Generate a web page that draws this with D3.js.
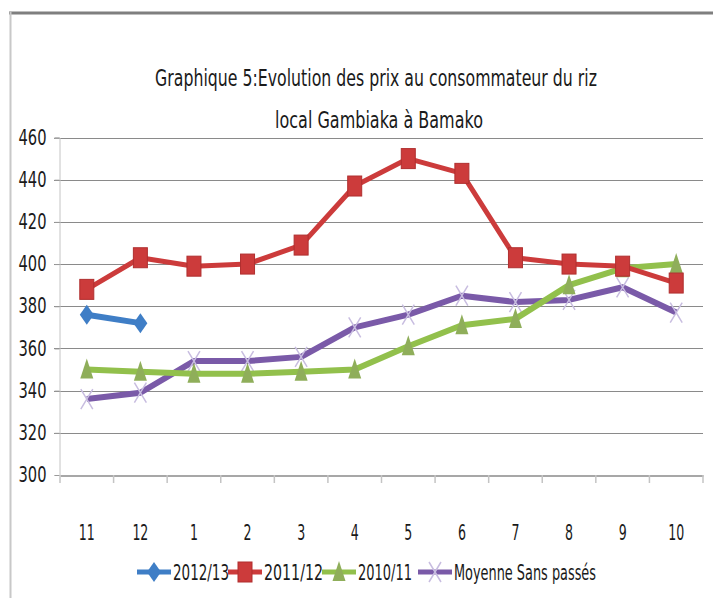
<!DOCTYPE html>
<html>
<head>
<meta charset="utf-8">
<script src="https://cdn.jsdelivr.net/npm/d3@7"></script>
<style>
  html, body { margin: 0; padding: 0; background: #fff; }
  text { font-family: "Liberation Sans Narrow", "DejaVu Sans Condensed", "Liberation Sans", sans-serif; fill: #1a1a1a; }
</style>
</head>
<body>
<div id="demo"></div>
<script>
// mois (axe x)
var months = ['11', '12', '1', '2', '3', '4', '5', '6', '7', '8', '9', '10'];
// graduations de l'axe y
var yTicks = [300, 320, 340, 360, 380, 400, 420, 440, 460];

// séries (prix FCFA/kg)
var serie2012 = [376, 372];
var serie2011 = [388, 403, 399, 400, 409, 437, 450, 443, 403, 400, 399, 391];
var serie2010 = [350, 349, 348, 348, 349, 350, 361, 371, 374, 390, 398, 400];
var serieMoy  = [336, 339, 354, 354, 356, 370, 376, 385, 382, 383, 389, 377];

var seriesNames = ['2012/13', '2011/12', '2010/11', 'Moyenne Sans passés'];

var W = 713, H = 598;
var FONT = '"Liberation Sans Narrow", "DejaVu Sans Condensed", sans-serif';
var svg = d3.select('#demo').append('svg')
	.attr('width', W)
	.attr('height', H);

// cadre
svg.append('rect').attr('x', 0).attr('y', 0).attr('width', W).attr('height', H).attr('fill', '#fff');
svg.append('line').attr('x1', 9).attr('x2', W).attr('y1', 13).attr('y2', 13)
	.attr('stroke', '#7f7f7f').attr('stroke-width', 3);
svg.append('line').attr('x1', 10.5).attr('x2', 10.5).attr('y1', 12).attr('y2', H)
	.attr('stroke', '#c8c8c8').attr('stroke-width', 2);

// titre : police condensée, mise à la largeur par une échelle horizontale
function titleLine(txt, cx, cy, width) {
	var t = svg.append('text')
		.attr('x', 0).attr('y', 0)
		.attr('text-anchor', 'middle')
		.attr('font-size', 23)
		.text(txt);
	var s = width / t.node().getComputedTextLength();
	t.attr('transform', 'translate(' + cx + ',' + cy + ') scale(' + s + ',1)');
}
titleLine('Graphique 5:Evolution des prix au consommateur du riz', 376, 86, 442);
titleLine('local Gambiaka à Bamako', 379, 128, 208);

// échelles
var x = d3.scaleBand().domain(months).range([60, 703]);
var y = d3.scaleLinear().domain([300, 460]).range([475, 137.5]);

// grille horizontale
svg.append('g').selectAll('line')
	.data(yTicks.slice(1))
	.enter().append('line')
	.attr('x1', 54).attr('x2', 703)
	.attr('y1', function(d) { return Math.round(y(d)) + 0.5; })
	.attr('y2', function(d) { return Math.round(y(d)) + 0.5; })
	.attr('stroke', '#8a8a8a').attr('stroke-width', 1.2);

// axe y
var yAxis = svg.append('g')
	.attr('transform', 'translate(59.5,0)')
	.call(d3.axisLeft(y).tickValues(yTicks).tickSize(5).tickPadding(8));
yAxis.select('.domain').attr('stroke', '#c4c4c4');
yAxis.selectAll('.tick line').attr('stroke', '#9a9a9a');
yAxis.selectAll('.tick text')
	.attr('font-size', 21)
	.attr('textLength', 28).attr('lengthAdjust', 'spacingAndGlyphs')
	.style('font-family', FONT)
	.attr('fill', '#1a1a1a');

// axe x
var xAxis = svg.append('g')
	.attr('transform', 'translate(0,475.5)')
	.call(d3.axisBottom(x).tickSize(0).tickPadding(50));
xAxis.select('.domain').attr('stroke', '#8a8a8a').attr('stroke-width', 1.5);
xAxis.selectAll('.tick text')
	.attr('font-size', 21)
	.attr('textLength', function(d) { return d.length > 1 ? 16 : 8; })
	.attr('lengthAdjust', 'spacingAndGlyphs')
	.style('font-family', FONT)
	.attr('fill', '#1a1a1a');
// graduations entre catégories
svg.append('g').selectAll('line')
	.data(months.concat(['end']))
	.enter().append('line')
	.attr('x1', function(d, i) { return 60 + i * x.step(); })
	.attr('x2', function(d, i) { return 60 + i * x.step(); })
	.attr('y1', 475).attr('y2', 483)
	.attr('stroke', '#c4c4c4').attr('stroke-width', 1.5);

var colors = ['#3f7ec6', '#cc3b3b', '#92c04c', '#7a5aa8'];
var markers = ['diamond', 'square', 'triangle', 'x'];

var line = d3.line()
	.x(function(d) { return x(d.m) + x.bandwidth() / 2; })
	.y(function(d) { return y(d.v); });

function toPts(arr) {
	return arr.map(function(v, i) { return {m: months[i], v: v}; });
}

function drawMarker(g, type, cx, cy, color) {
	if (type === 'square') {
		g.append('rect').attr('x', cx - 7).attr('y', cy - 10).attr('width', 14).attr('height', 20)
			.attr('fill', color).attr('stroke', '#b02f2f').attr('stroke-width', 1);
	} else if (type === 'diamond') {
		g.append('path').attr('d', 'M' + cx + ',' + (cy - 10) + 'L' + (cx + 7) + ',' + cy + 'L' + cx + ',' + (cy + 10) + 'L' + (cx - 7) + ',' + cy + 'Z')
			.attr('fill', color);
	} else if (type === 'triangle') {
		g.append('path').attr('d', 'M' + cx + ',' + (cy - 11) + 'L' + (cx + 6.5) + ',' + (cy + 9) + 'L' + (cx - 6.5) + ',' + (cy + 9) + 'Z')
			.attr('fill', '#8fae5a');
	} else {
		g.append('path').attr('d', 'M' + (cx - 6) + ',' + (cy - 10) + 'L' + (cx + 6) + ',' + (cy + 10) + 'M' + (cx + 6) + ',' + (cy - 10) + 'L' + (cx - 6) + ',' + (cy + 10))
			.attr('stroke', '#c8bde0').attr('stroke-width', 1.5).attr('fill', 'none');
	}
}

var allSeries = [serie2012, serie2011, serie2010, serieMoy];
var order = [3, 2, 1, 0];
order.forEach(function(k) {
	var pts = toPts(allSeries[k]);
	var g = svg.append('g');
	g.append('path')
		.attr('d', line(pts))
		.attr('stroke', colors[k])
		.attr('stroke-width', k === 1 ? 5 : 6)
		.attr('stroke-linejoin', 'round')
		.attr('fill', 'none');
	pts.forEach(function(p) {
		drawMarker(g, markers[k], x(p.m) + x.bandwidth() / 2, y(p.v), colors[k]);
	});
});

// légende
var legendX = [137, 228, 322, 418];
var legendW = [56, 59, 54, 142];
var lg = svg.append('g');
seriesNames.forEach(function(name, k) {
	var lx = legendX[k];
	lg.append('line').attr('x1', lx).attr('x2', lx + 34).attr('y1', 572).attr('y2', 572)
		.attr('stroke', colors[k]).attr('stroke-width', 5);
	var mg = lg.append('g');
	drawMarker(mg, markers[k], lx + 17, 572, colors[k]);
	lg.append('text')
		.attr('x', lx + 36).attr('y', 580)
		.attr('font-size', 21)
		.attr('textLength', legendW[k]).attr('lengthAdjust', 'spacingAndGlyphs')
		.text(name);
});
</script>
</body>
</html>
